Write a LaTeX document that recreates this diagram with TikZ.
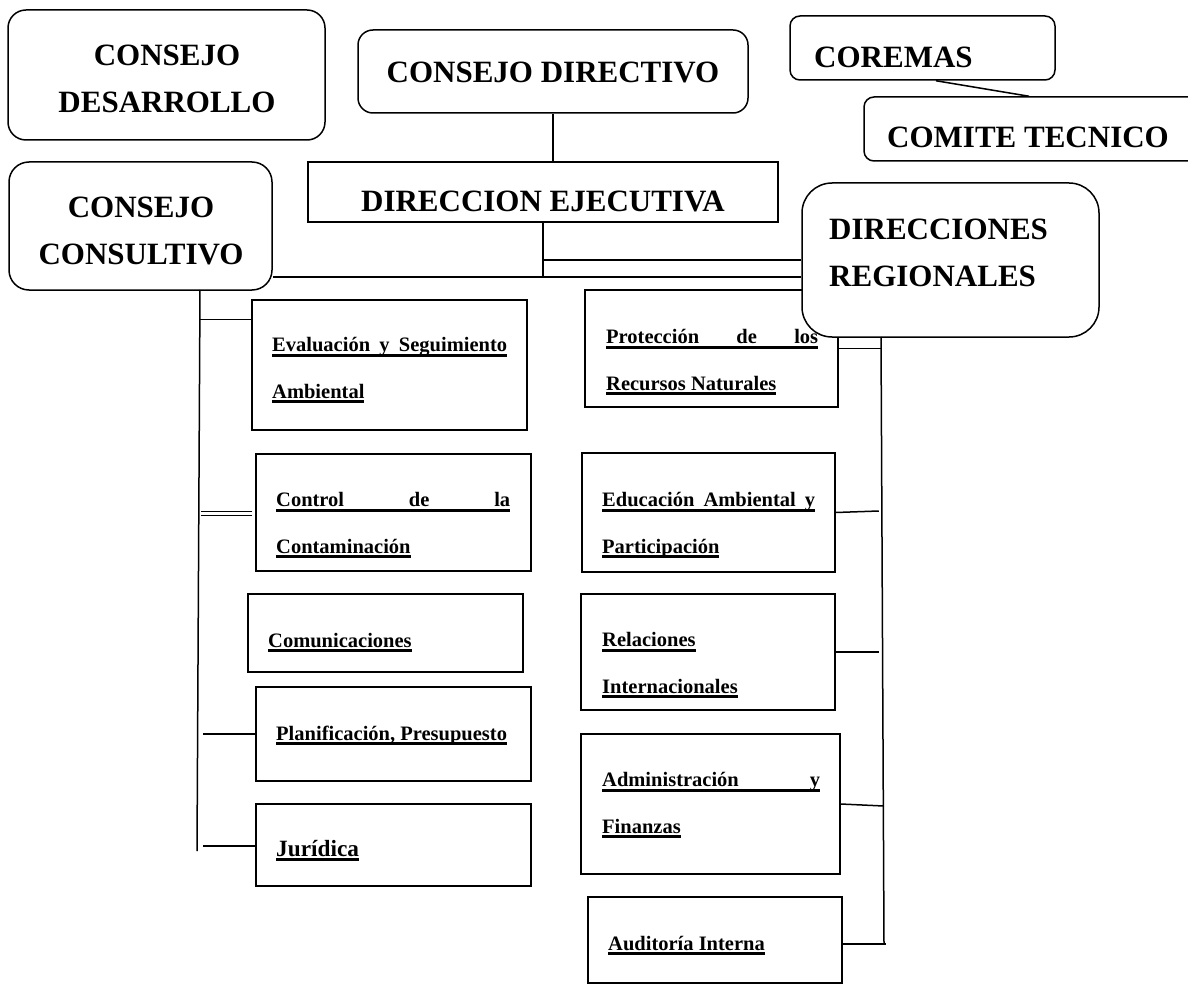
\documentclass[tikz,border=0pt]{standalone}
\usepackage{fontspec}
\setmainfont{Liberation Serif}
\newcommand\subr[1]{\setbox0\hbox{#1}\rlap{\rule[-5pt]{\wd0}{2.6pt}}\box0}

\begin{document}
\begin{tikzpicture}[x=1pt,y=-1pt,
        unit/.style={draw,line width=1.5pt,inner sep=0pt,anchor=center,fill=white},
        link/.style={line width=1.5pt},
        bigtxt/.style={font=\fontsize{31}{47}\selectfont\bfseries,inner sep=0pt},
        smalltxt/.style={font=\fontsize{20.5}{46.5}\selectfont\bfseries,inner sep=0pt,anchor=base west,align=left}]
        \useasboundingbox (0,0) rectangle (1188,984);
        \clip (0,0) rectangle (1188,984);
        %% councils
        \node[unit,rounded corners=18pt,minimum width=317pt,minimum height=130pt] (cdes) at (166.5,75) {};
        \node[unit,rounded corners=15pt,minimum width=390pt,minimum height=83pt] (cdir) at (553,71.5) {};
        \node[unit,rounded corners=10pt,minimum width=265pt,minimum height=64pt] (coremas) at (922.5,48) {};
        \node[unit,rounded corners=10pt,minimum width=360pt,minimum height=64pt] (comite) at (1044,129) {};
        \node[unit,minimum width=470pt,minimum height=60pt] (dirEje) at (543,192) {};
        \node[unit,rounded corners=20pt,minimum width=263pt,minimum height=128pt] (ccons) at (140.5,226) {};
        %% units left column
        \node[unit,minimum width=275pt,minimum height=130pt] (eval) at (389.5,365) {};
        \node[unit,minimum width=275pt,minimum height=117pt] (contam) at (393.5,512.5) {};
        \node[unit,minimum width=275pt,minimum height=78pt] (comun) at (385.5,633) {};
        \node[unit,minimum width=275pt,minimum height=94pt] (plan) at (393.5,734) {};
        \node[unit,minimum width=275pt,minimum height=82pt] (jur) at (393.5,845) {};
        %% units right column
        \node[unit,minimum width=253pt,minimum height=117pt] (prot) at (711.5,348.5) {};
        \node[unit,minimum width=253pt,minimum height=119pt] (educ) at (708.5,512.5) {};
        \node[unit,minimum width=254pt,minimum height=116pt] (rel) at (708,652) {};
        \node[unit,minimum width=259pt,minimum height=140pt] (adm) at (710.5,804) {};
        \node[unit,minimum width=254pt,minimum height=86pt] (aud) at (715,940) {};
        %% regional offices (over the corner of prot)
        \node[unit,rounded corners=30pt,minimum width=297pt,minimum height=154pt] (dreg) at (950.5,260) {};
        %% texts (multi-line ones sit on their last baseline)
        \node[bigtxt,align=center,anchor=base] (cdesT) at (167,113) {CONSEJO\\DESARROLLO};
        \node[bigtxt,anchor=base] (cdirT) at (553,83) {CONSEJO DIRECTIVO};
        \node[bigtxt,anchor=base west] (coremasT) at (814,68) {COREMAS};
        \node[bigtxt,anchor=base west] (comiteT) at (887,148) {COMITE TECNICO};
        \node[bigtxt,anchor=base] (dirEjeT) at (543,212) {DIRECCION EJECUTIVA};
        \node[bigtxt,align=center,anchor=base] (cconsT) at (141,265) {CONSEJO\\CONSULTIVO};
        \node[bigtxt,align=left,anchor=base west] (dregT) at (829,287) {DIRECCIONES\\REGIONALES};
        \node[smalltxt] (evalT) at (272,398) {\subr{\makebox[235pt][s]{Evaluación y Seguimiento}}\\\subr{Ambiental}};
        \node[smalltxt] (contamT) at (276,553) {\subr{\makebox[234pt][s]{Control de la}}\\\subr{Contaminación}};
        \node[smalltxt] (comunT) at (268,647) {\subr{Comunicaciones}};
        \node[smalltxt] (planT) at (276,740) {\subr{Planificación, Presupuesto}};
        \node[smalltxt,font=\fontsize{23.3}{30}\selectfont\bfseries] (jurT) at (276,856) {\subr{Jurídica}};
        \node[smalltxt] (protT) at (606,390) {\subr{\makebox[212pt][s]{Protección de los}}\\\subr{Recursos Naturales}};
        \node[smalltxt] (educT) at (602,553) {\subr{\makebox[213pt][s]{Educación Ambiental y}}\\\subr{Participación}};
        \node[smalltxt] (relT) at (602,693) {\subr{Relaciones}\\\subr{Internacionales}};
        \node[smalltxt] (admT) at (602,833) {\subr{\makebox[218pt][s]{Administración y}}\\\subr{Finanzas}};
        \node[smalltxt] (audT) at (608,950) {\subr{Auditoría Interna}};
        %% top links
        \draw[link] (cdir.south) -- (dirEje.north -| cdir.south);
        \draw[link] ([xshift=13.5pt]coremas.south) -- ([xshift=-15pt]comite.north);
        \coordinate (deMid) at (543,260);
        \coordinate (deFoot) at (543,277);
        \draw[link] (dirEje.south) -- (deFoot);
        \draw[link] (deMid) -- (deMid -| dreg.west);
        \draw[link] (ccons.east |- deFoot) -- (deFoot -| dreg.west);
        %% left rail
        \coordinate (lRail) at (200,290);
        \draw[link] (lRail) -- ++(-3,561);
        \draw[link] (eval.north west) ++(0,20) -- ++(-52,0);
        \draw[line width=1pt] (contam.west) ++(-3,-1) -- ++(-51,0);
        \draw[line width=1pt] (contam.west) ++(-3,2.5) -- ++(-51,0);
        \draw[link] (plan.west) -- ++(-52,0);
        \draw[link] (jur.west) ++(0,1) -- ++(-52,0);
        %% right rail
        \coordinate (rRail) at (881,337);
        \draw[link] (rRail) -- ++(3,607);
        \draw[link] (prot.east) -- ++(43,0);
        \draw[link] (educ.east) -- ++(43,-1.5);
        \draw[link] (rel.east) -- ++(43,0);
        \draw[link] (adm.east) -- ++(43,2);
        \draw[link] (aud.east) ++(0,4) -- ++(43,0);
\end{tikzpicture}
\end{document}
